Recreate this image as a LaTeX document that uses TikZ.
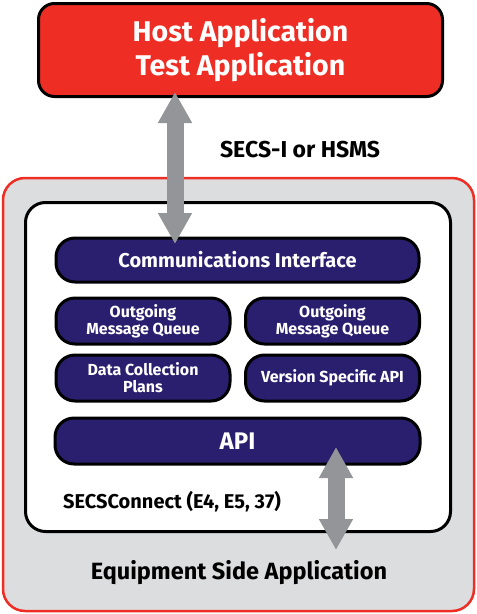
\documentclass[tikz,border=0pt]{standalone}
\usepackage{fontspec}
\setmainfont{Fira Sans}
\usetikzlibrary{arrows.meta}
\definecolor{hostred}{HTML}{EE2E24}
\definecolor{navyfill}{HTML}{2A1F6F}
\definecolor{panelgrey}{HTML}{DCDDDE}
\definecolor{arrowgrey}{HTML}{939598}
\begin{document}
\begin{tikzpicture}[x=1pt,y=-1pt,
  navybox/.style={draw=black, line width=3pt, fill=navyfill, rounded corners=19pt,
    text=white, font=\bfseries\fontsize{16}{17}\selectfont, align=center, inner sep=0pt},
  bigarrow/.style={draw=arrowgrey, line width=17pt,
    {Triangle[width=32pt,length=31pt]}-{Triangle[width=32pt,length=31pt]}},
  lbl/.style={font=\bfseries, text=black, inner sep=0pt}]
\useasboundingbox (0,0) rectangle (477,614);
% host
\node[draw=black, line width=3pt, fill=hostred, rounded corners=16pt,
  minimum width=404pt, minimum height=93pt, text=white, align=center,
  font=\bfseries\fontsize{28.5}{34}\selectfont, inner sep=0pt] (host) at (240.5,50)
  {Host Application\\Test Application};
% outer panel
\node[draw=hostred, line width=2.5pt, fill=panelgrey, rounded corners=22pt,
  minimum width=471pt, minimum height=433pt, inner sep=0pt] (outer) at (238.5,394.5) {};
% inner panel
\node[draw=black, line width=3pt, fill=white, rounded corners=20pt,
  minimum width=425pt, minimum height=329pt, inner sep=0pt] (inner) at (238,367) {};
% boxes
\node[navybox, minimum width=363pt, minimum height=44pt,
  font=\bfseries\fontsize{20}{22}\selectfont] (comm) at (237.5,260) {Communications Interface};
\node[navybox, minimum width=174pt, minimum height=46pt] (oq1) at (143,321) {Outgoing\\Message Queue};
\node[navybox, minimum width=174pt, minimum height=46pt] (oq2) at (332.5,321) {Outgoing\\Message Queue};
\node[navybox, minimum width=174pt, minimum height=46pt] (dcp) at (143,378) {Data Collection\\Plans};
\node[navybox, minimum width=174pt, minimum height=46pt] (vsa) at (332.5,378) {Version Specific API};
\node[navybox, minimum width=365pt, minimum height=46pt,
  font=\bfseries\fontsize{24}{26}\selectfont] (api) at (237.5,441) {API};
% labels
\node[lbl, font=\bfseries\fontsize{23}{25}\selectfont] (secs) at (300,150) {SECS-I or HSMS};
\node[lbl, anchor=west, font=\bfseries\fontsize{20}{22}\selectfont] (sc) at (63,502) {SECSConnect (E4, E5, 37)};
\node[lbl, font=\bfseries\fontsize{23.5}{26}\selectfont] (equip) at (239,573) {Equipment Side Application};
% arrows
\coordinate (a1top) at (175,92);
\coordinate (a1bot) at (175,244);
\coordinate (a2top) at (336,447);
\coordinate (a2bot) at (336,550);
\draw[bigarrow] (a1top) -- (a1bot);
\draw[bigarrow] (a2top) -- (a2bot);
\end{tikzpicture}
\end{document}
